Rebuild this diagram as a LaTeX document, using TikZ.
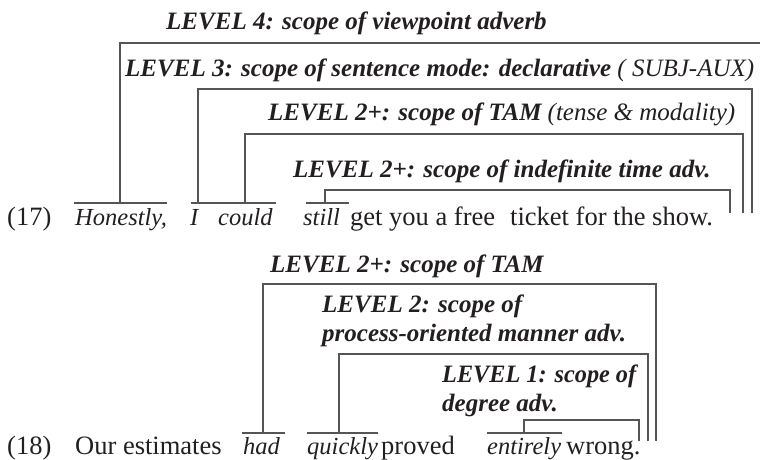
\documentclass[tikz,border=0pt]{standalone}
\usepackage{fontspec}
\setmainfont{Liberation Serif}
\definecolor{ink}{HTML}{231F20}
\definecolor{rule}{HTML}{555555}
\begin{document}
\begin{tikzpicture}[x=1pt,y=-1pt,
  every node/.style={inner sep=0pt, anchor=base west, text=ink},
  lab/.style={font=\fontsize{25}{30}\selectfont\bfseries\itshape},
  wd/.style={font=\fontsize{24.5}{30}\selectfont\itshape},
  rm/.style={font=\fontsize{26.5}{32}\selectfont},
  bar/.style={draw=rule, line width=1.1pt}]
\useasboundingbox (0,0) rectangle (760,460);

% ---------- example (17) ----------
\node[lab] (a4)  at (166,30)  {LEVEL 4: scope of viewpoint adverb};
\node[lab] (a3)  at (125,77)  {LEVEL 3: scope of sentence mode: declarative\ {\mdseries ( SUBJ-AUX)}};
\node[lab] (a2)  at (268,120) {LEVEL 2+: scope of TAM {\mdseries (tense \& modality)}};
\node[lab] (a2i) at (293,177) {LEVEL 2+: scope of indefinite time adv.};

\node[rm] (n17)    at (7,225)   {(17)};
\node[wd] (hon)    at (75,225)  {Honestly,};
\node[wd] (wi)     at (190,225) {I};
\node[wd] (could)  at (218,225) {could};
\node[wd] (still)  at (303,225) {still};
\node[rm] (get)    at (350,225) {get you a free};
\node[rm] (ticket) at (510,225) {ticket for the show.};

% overlines of (17)
\coordinate (h1) at (74,203);   \coordinate (h2) at (167,203);
\coordinate (c1) at (191,203);  \coordinate (c2) at (276,203);
\coordinate (s1) at (306,203);  \coordinate (s2) at (349,203);
\draw[bar] (h1) -- (h2);
\draw[bar] (c1) -- (c2);
\draw[bar] (s1) -- (s2);

% scope brackets of (17)
\coordinate (f4) at (120,203); \coordinate (t4) at (760,43);
\coordinate (f3) at (198,203); \coordinate (t3) at (752,89);  \coordinate (e3) at (752,213);
\coordinate (f2) at (245,203); \coordinate (t2) at (743,134); \coordinate (e2) at (743,213);
\coordinate (fi) at (325,203); \coordinate (ti) at (730,190); \coordinate (ei) at (730,213);
\draw[bar] (f4) |- (t4);
\draw[bar] (f3) |- (t3) -- (e3);
\draw[bar] (f2) |- (t2) -- (e2);
\draw[bar] (fi) |- (ti) -- (ei);

% ---------- example (18) ----------
\node[lab] (b2)  at (270,272) {LEVEL 2+: scope of TAM};
\node[lab] (b1a) at (322,312) {LEVEL 2: scope of};
\node[lab] (b1b) at (322,341) {process-oriented manner adv.};
\node[lab] (b0a) at (442,382) {\scalebox{0.97}[1]{LEVEL 1: scope of}};
\node[lab] (b0b) at (442,411) {degree adv.};

\node[rm] (n18)    at (7,454)   {(18)};
\node[rm] (our)    at (75,454)  {Our estimates};
\node[wd] (had)    at (243,454) {had};
\node[wd] (quick)  at (307,454) {quickly};
\node[rm] (proved) at (381,454) {proved};
\node[wd] (ent)    at (487,454) {entirely};
\node[rm] (wrong)  at (566,454) {wrong.};

% overlines of (18)
\coordinate (d1) at (242,433); \coordinate (d2) at (285,433);
\coordinate (q1) at (307,433); \coordinate (q2) at (378,433);
\coordinate (r1) at (487,433); \coordinate (r2) at (562,433);
\draw[bar] (d1) -- (d2);
\draw[bar] (q1) -- (q2);
\draw[bar] (r1) -- (r2);

% scope brackets of (18)
\coordinate (g2) at (263,433); \coordinate (u2) at (656,284); \coordinate (k2) at (656,441);
\coordinate (g1) at (339,433); \coordinate (u1) at (648,354); \coordinate (k1) at (648,441);
\coordinate (g0) at (524,433); \coordinate (u0) at (639,420); \coordinate (k0) at (639,441);
\draw[bar] (g2) |- (u2) -- (k2);
\draw[bar] (g1) |- (u1) -- (k1);
\draw[bar] (g0) |- (u0) -- (k0);
\end{tikzpicture}
\end{document}
